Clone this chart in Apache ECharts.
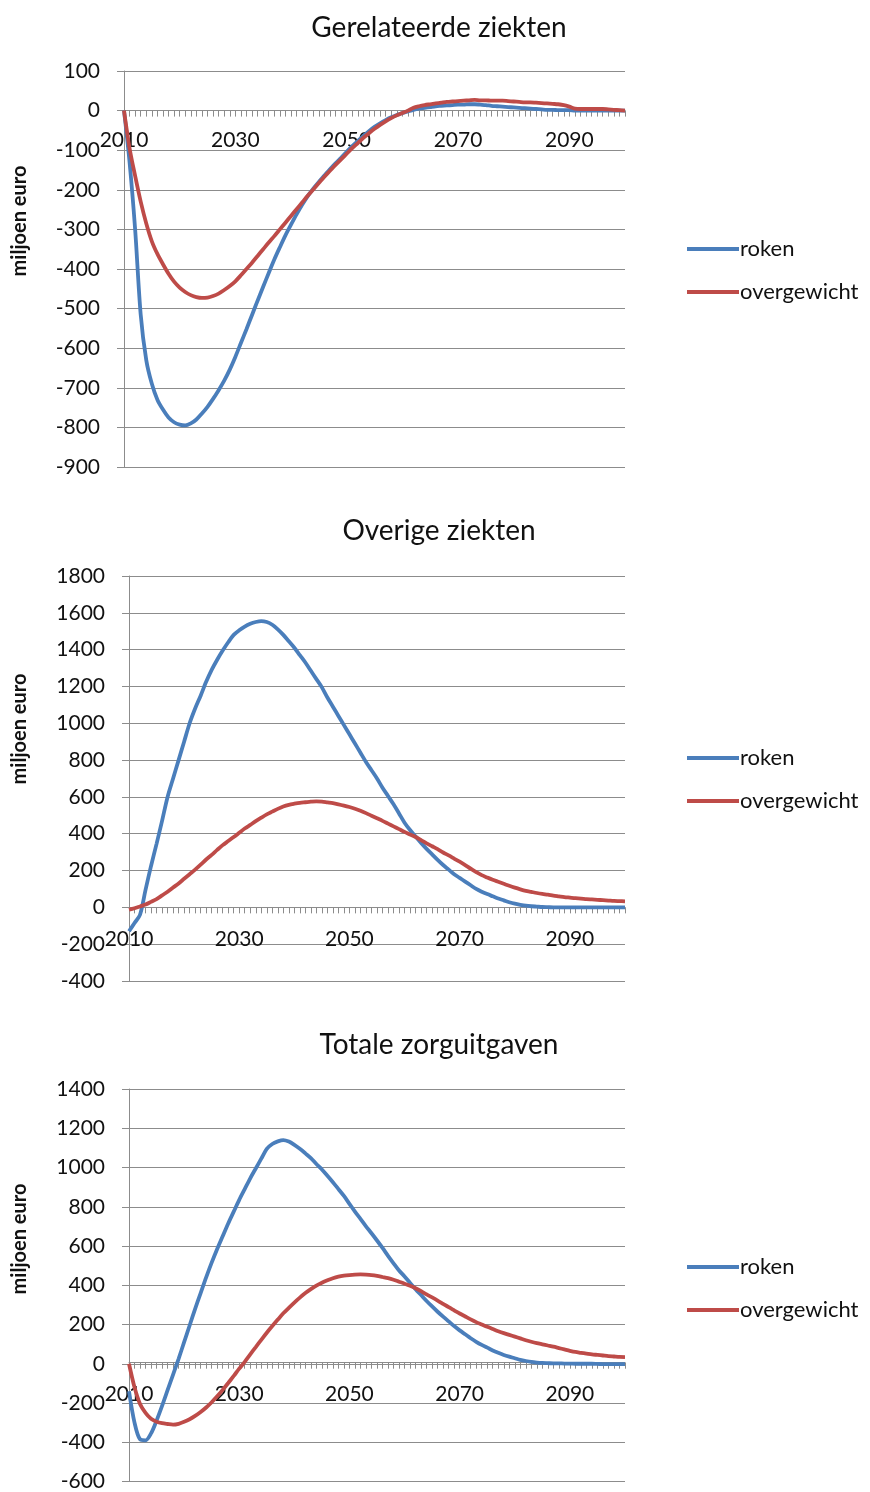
<!DOCTYPE html>
<html>
<head>
<meta charset="utf-8">
<script src="https://cdn.jsdelivr.net/npm/echarts@6/dist/echarts.min.js"></script>
<style>
html,body{margin:0;padding:0;background:#fff;}
#c{width:870px;height:1492px;}
</style>
</head>
<body>
<div id="c"></div>
<script>
// Years 2010..2100 (category axis)
const firstYear = 2010, lastYear = 2100;
const years = [];
for (let y = firstYear; y <= lastYear; y++) years.push(String(y));

const seriesNames = ['roken', 'overgewicht'];
const chartTitles = ['Gerelateerde ziekten', 'Overige ziekten', 'Totale zorguitgaven'];
const yAxisTitle = 'miljoen euro';

// Chart 1: Gerelateerde ziekten
const gerelateerdRoken = [
  0,-130,-300,-515,-630,-690,-730,-755,-775,-787,
  -793,-795,-790,-780,-765,-748,-728,-706,-682,-654,
  -622,-587,-552,-516,-480,-445,-410,-376,-345,-315,
  -288,-262,-238,-216,-197,-180,-164,-148,-133,-119,
  -104,-90,-77,-64,-52,-41,-32,-24,-17,-11,
  -6,-2,2,5,7,9,11,12,13,14,
  15,15,16,16,15,14,12,11,10,9,
  8,7,6,5,4,3,2,2,1,1,
  1,0,0,0,0,0,0,0,0,0,
  0];
const gerelateerdOvergewicht = [
  0,-95,-165,-230,-285,-330,-362,-388,-412,-432,
  -447,-458,-466,-471,-473,-472,-468,-462,-453,-443,
  -431,-416,-400,-384,-367,-350,-333,-317,-300,-283,
  -266,-249,-232,-215,-199,-183,-167,-152,-137,-123,
  -109,-95,-82,-69,-57,-46,-36,-27,-19,-12,
  -6,0,7,11,14,16,18,20,22,23,
  24,25,26,27,26,26,25,25,25,24,
  23,22,21,21,20,19,18,17,16,14,
  10,5,4,4,4,4,4,3,2,1,
  0];

// Chart 2: Overige ziekten
const overigRoken = [
  -130,-85,-40,95,225,345,470,600,700,800,
  900,1000,1080,1150,1225,1290,1345,1395,1440,1480,
  1505,1525,1540,1550,1555,1550,1535,1510,1480,1445,
  1410,1370,1330,1285,1240,1195,1140,1090,1040,990,
  940,890,840,790,745,700,650,605,560,510,
  460,420,385,350,318,288,258,230,205,180,
  160,140,120,100,85,72,60,48,38,28,
  20,14,9,6,4,2,1,0,0,0,
  0,0,0,0,0,0,0,0,0,0,
  0];
const overigOvergewicht = [
  -13,-5,5,15,30,45,65,85,108,130,
  155,180,205,232,260,285,312,338,360,382,
  405,428,448,468,487,505,520,535,548,557,
  563,568,571,574,576,574,570,566,560,553,
  545,536,525,512,498,484,470,455,440,425,
  410,396,382,365,348,332,316,298,282,265,
  248,230,210,192,175,162,150,139,128,117,
  107,98,90,84,78,73,69,64,60,56,
  53,50,48,45,43,41,39,37,35,34,
  33];

// Chart 3: Totale zorguitgaven
const totaalRoken = [
  -140,-300,-385,-390,-355,-290,-215,-135,-55,25,
  110,195,280,360,440,515,585,650,715,775,
  835,890,945,995,1045,1095,1120,1133,1140,1132,
  1115,1095,1072,1048,1018,990,958,925,890,855,
  815,775,738,700,665,628,590,550,512,475,
  445,412,380,350,320,292,265,240,216,192,
  170,150,130,112,96,82,68,56,45,36,
  28,20,14,9,6,4,3,2,2,1,
  1,0,0,0,0,-1,-2,-2,-2,-2,
  -2];
const totaalOvergewicht = [
  0,-120,-205,-250,-280,-295,-303,-307,-310,-306,
  -296,-283,-266,-246,-223,-196,-166,-133,-98,-62,
  -25,10,48,85,122,158,192,225,257,285,
  312,337,360,380,398,413,425,436,444,449,
  452,454,455,454,452,448,442,436,428,418,
  408,397,385,370,353,338,322,305,288,272,
  256,241,226,212,200,188,177,166,156,147,
  138,129,120,112,105,99,93,87,80,73,
  66,60,56,52,48,45,42,39,37,35,
  34];

// Y axis ranges
const yRanges = [
  {min: -900, max: 100, interval: 100},
  {min: -400, max: 1800, interval: 200},
  {min: -600, max: 1400, interval: 200}
];

const seriesData = [
  [gerelateerdRoken, gerelateerdOvergewicht],
  [overigRoken, overigOvergewicht],
  [totaalRoken, totaalOvergewicht]
];

const colors = ['#4A7EBB', '#BE4B48'];
const FONT = 'Lato, "Open Sans", sans-serif';
const TXT = '#111';
const GRAY = '#8c8c8c';

const grids = [
  {left: 124, top: 71, width: 501, height: 396},
  {left: 129, top: 576, width: 496, height: 405},
  {left: 129, top: 1089, width: 496, height: 396}
];
const titleTops = [9, 512, 1026];
const legendTops = [232, 741, 1250];
const axisNameY = [221, 729, 1239];
const xLabelMargins = [19, 21, 21];

const option = {
  animation: false,
  backgroundColor: '#fff',
  textStyle: {fontFamily: FONT},
  title: chartTitles.map((t, i) => ({
    text: t, left: 434, top: titleTops[i], textAlign: 'center',
    textStyle: {fontFamily: FONT, fontSize: 28, fontWeight: 'normal', color: TXT}
  })),
  legend: legendTops.map(top => ({
    data: seriesNames, orient: 'vertical', left: 682, top: top,
    icon: 'rect', itemWidth: 52, itemHeight: 4, itemGap: 19,
    textStyle: {fontFamily: FONT, fontSize: 22, color: TXT, lineHeight: 24, padding: [0, 0, 0, -4]}
  })),
  grid: grids,
  xAxis: grids.map((g, i) => {
    const r = yRanges[i];
    // place the category axis at the zero line of the value axis
    const zeroFromBottom = g.height * (0 - r.min) / (r.max - r.min);
    return {
      type: 'category', gridIndex: i, data: years, boundaryGap: false,
      position: 'bottom', offset: -zeroFromBottom,
      axisLine: {onZero: false, lineStyle: {color: GRAY, width: 1}},
      axisTick: {show: true, interval: 0, length: 6, lineStyle: {color: GRAY}},
      axisLabel: {interval: 19, margin: xLabelMargins[i], fontSize: 21, fontFamily: FONT, color: TXT, showMinLabel: true, hideOverlap: false},
      splitLine: {show: false}
    };
  }),
  yAxis: yRanges.map((r, i) => ({
    type: 'value', gridIndex: i, min: r.min, max: r.max, interval: r.interval,
    axisLine: {show: true, onZero: false, lineStyle: {color: GRAY, width: 1}},
    axisTick: {show: true, length: 7, lineStyle: {color: GRAY}},
    axisLabel: {margin: 24, fontSize: 21, fontFamily: FONT, color: TXT, formatter: v => String(v)},
    splitLine: {show: true, lineStyle: {color: GRAY, width: 1}}
  })),
  graphic: axisNameY.map(y => ({
    type: 'text', x: 20, y: y, rotation: Math.PI / 2,
    style: {text: yAxisTitle, fill: TXT, font: 'bold 20px ' + FONT, textAlign: 'center', textVerticalAlign: 'middle'}
  })),
  series: []
};

seriesData.forEach((pair, gi) => {
  pair.forEach((data, si) => {
    option.series.push({
      name: seriesNames[si], type: 'line', xAxisIndex: gi, yAxisIndex: gi,
      data: data, symbol: 'none', smooth: 0.3,
      lineStyle: {color: colors[si], width: 3.8},
      itemStyle: {color: colors[si]}
    });
  });
});

const chart = echarts.init(document.getElementById('c'), null, {renderer: 'canvas'});
chart.setOption(option);
</script>
</body>
</html>
